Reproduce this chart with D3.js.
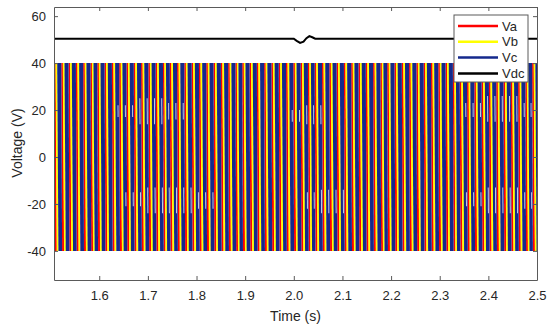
<!DOCTYPE html>
<html>
<head>
<meta charset="utf-8">
<script src="https://cdn.jsdelivr.net/npm/d3@7"></script>
<style>
  body { margin: 0; background: #fff; }
  svg { display: block; font-family: "Liberation Sans", Arial, sans-serif; }
</style>
</head>
<body>
<div class="chart"></div>
<script>
// Canvas size
var svgWidth = 550;
var svgHeight = 327;

// Margins around the plot box
var margin = { top: 7, right: 13, bottom: 47, left: 54 };
var width = svgWidth - margin.left - margin.right;
var height = svgHeight - margin.top - margin.bottom;

// Series and colours
var seriesNames = ["Va", "Vb", "Vc", "Vdc"];
var seriesColors = ["#ff0000", "#ffff00", "#14298c", "#000000"];

// Tick labels
var xTicks = [1.6, 1.7, 1.8, 1.9, 2.0, 2.1, 2.2, 2.3, 2.4, 2.5];
var yTicks = [-40, -20, 0, 20, 40, 60];

// Start time of each visible switching cycle
var cycleStarts = [1.507, 1.522, 1.537, 1.552, 1.567, 1.582, 1.596, 1.611, 1.626, 1.641,
  1.656, 1.671, 1.686, 1.701, 1.716, 1.731, 1.745, 1.760, 1.775, 1.790,
  1.805, 1.820, 1.835, 1.850, 1.865, 1.880, 1.894, 1.909, 1.924, 1.939,
  1.954, 1.969, 1.984, 1.999, 2.014, 2.029, 2.043, 2.058, 2.073, 2.088,
  2.103, 2.118, 2.133, 2.148, 2.163, 2.178, 2.192, 2.207, 2.222, 2.237,
  2.252, 2.267, 2.282, 2.297, 2.312, 2.327, 2.341, 2.356, 2.371, 2.386,
  2.401, 2.416, 2.431, 2.446, 2.461, 2.476, 2.490];

// Switching band of each phase inside one cycle, as cycle fractions:
// [start at +40 V, end at +40 V, start at -40 V, end at -40 V]  (stripes lean right going down)
var vaBand = [0.00, 0.24, 0.11, 0.39];
var vbBand = [0.20, 0.46, 0.37, 0.63];
var vcBand = [0.44, 1.00, 0.61, 1.11];
var vHigh = 40;
var vLow = -40;

// Light gaps inside the Vc band: [t start, t end, low V, high V]
var lightGaps = [[1.62, 1.66, 17, 22], [1.66, 1.73, 14, 25], [1.73, 1.77, 16, 23],
  [1.63, 1.68, -21, -15], [1.68, 1.78, -24, -13], [1.78, 1.83, -22, -15],
  [1.98, 2.01, 15, 20], [2.01, 2.05, 14, 22],
  [2.00, 2.04, -22, -15], [2.04, 2.10, -24, -14],
  [2.33, 2.38, 17, 23], [2.38, 2.45, 15, 26], [2.45, 2.48, 17, 23],
  [2.33, 2.38, -21, -15], [2.38, 2.46, -24, -13], [2.46, 2.49, -22, -15]];

// DC link voltage
var vdcTime = [1.507, 2.000, 2.006, 2.013, 2.020, 2.026, 2.032, 2.038, 2.044, 2.500];
var vdcValue = [50.4, 50.4, 49.5, 48.6, 49.1, 50.6, 51.5, 51.0, 50.4, 50.4];

var svg = d3.select(".chart")
  .append("svg")
  .attr("width", svgWidth)
  .attr("height", svgHeight);

var chartGroup = svg.append("g")
  .attr("transform", `translate(${margin.left}, ${margin.top})`);

// Scales
var xScale = d3.scaleLinear().domain([1.507, 2.5]).range([0, width]);
var yScale = d3.scaleLinear().domain([-52.4, 63.9]).range([height, 0]);

chartGroup.append("clipPath").attr("id", "plotClip")
  .append("rect").attr("width", width).attr("height", height);

var plot = chartGroup.append("g").attr("clip-path", "url(#plotClip)");

function cycleLength(k) {
  return (k < cycleStarts.length - 1 ? cycleStarts[k + 1] : 2.505) - cycleStarts[k];
}

// Build slanted band polygons for the three phases
var phaseBands = [vaBand, vbBand, vcBand];
var polys = [];
phaseBands.forEach(function(b, p) {
  cycleStarts.forEach(function(t0, k) {
    var len = cycleLength(k);
    polys.push({ p: p, pts: [
      [t0 + b[0] * len, vHigh], [t0 + b[1] * len, vHigh],
      [t0 + b[3] * len, vLow], [t0 + b[2] * len, vLow]
    ] });
  });
});

var polyLine = d3.line()
  .x(d => xScale(d[0]))
  .y(d => yScale(d[1]));

plot.selectAll("path.band")
  .data(polys)
  .enter()
  .append("path")
  .attr("class", "band")
  .attr("d", d => polyLine(d.pts) + "Z")
  .attr("fill", d => seriesColors[d.p]);

// light gaps (follow the lean of the Vc band)
var gapPolys = [];
lightGaps.forEach(function(g) {
  cycleStarts.forEach(function(t0, k) {
    if (t0 < g[0] || t0 >= g[1]) return;
    var len = cycleLength(k);
    var shift = function(v) { return (vHigh - v) / (vHigh - vLow) * 0.17; };
    gapPolys.push([
      [t0 + (0.74 + shift(g[3])) * len, g[3]], [t0 + (0.86 + shift(g[3])) * len, g[3]],
      [t0 + (0.86 + shift(g[2])) * len, g[2]], [t0 + (0.74 + shift(g[2])) * len, g[2]]
    ]);
  });
});

plot.selectAll("path.gap")
  .data(gapPolys)
  .enter()
  .append("path")
  .attr("class", "gap")
  .attr("d", d => polyLine(d) + "Z")
  .attr("fill", "#d9def2");

// Vdc line
var vdcLine = d3.line()
  .x((d, i) => xScale(vdcTime[i]))
  .y(d => yScale(d));

plot.append("path")
  .datum(vdcValue)
  .attr("d", vdcLine)
  .attr("fill", "none")
  .attr("stroke", seriesColors[3])
  .attr("stroke-width", 2);

// Axes (ticks pointing inward, box on all sides)
var axisColor = "#5a5a5a";
var textColor = "#262626";

var bottomAxis = d3.axisBottom(xScale).tickValues(xTicks)
  .tickFormat(d3.format(".1f")).tickSizeInner(-4).tickSizeOuter(0).tickPadding(11);
var leftAxis = d3.axisLeft(yScale).tickValues(yTicks)
  .tickFormat(d => String(d)).tickSizeInner(-4).tickSizeOuter(0).tickPadding(8);
var topAxis = d3.axisTop(xScale).tickValues(xTicks)
  .tickFormat("").tickSizeInner(-4).tickSizeOuter(0);
var rightAxis = d3.axisRight(yScale).tickValues(yTicks)
  .tickFormat("").tickSizeInner(-4).tickSizeOuter(0);

var gx = chartGroup.append("g").attr("transform", `translate(0, ${height})`).call(bottomAxis);
var gy = chartGroup.append("g").call(leftAxis);
var gt = chartGroup.append("g").call(topAxis);
var gr = chartGroup.append("g").attr("transform", `translate(${width}, 0)`).call(rightAxis);

[gx, gy, gt, gr].forEach(function(g) {
  g.selectAll("path, line").attr("stroke", axisColor);
  g.selectAll("text").attr("fill", textColor).attr("font-size", 13)
    .attr("font-family", "'Liberation Sans', Arial, sans-serif");
});

// Axis labels
chartGroup.append("text")
  .attr("x", width / 2)
  .attr("y", height + 41)
  .attr("text-anchor", "middle")
  .attr("font-size", 14)
  .attr("fill", textColor)
  .text("Time (s)");

chartGroup.append("text")
  .attr("transform", "rotate(-90)")
  .attr("x", 0 - (yScale(0) - 14))
  .attr("y", 0 - margin.left + 22)
  .attr("text-anchor", "middle")
  .attr("font-size", 14)
  .attr("fill", textColor)
  .text("Voltage (V)");

// Legend
var legend = svg.append("g").attr("transform", "translate(454, 15)");
legend.append("rect")
  .attr("width", 74)
  .attr("height", 67)
  .attr("fill", "#fff")
  .attr("stroke", axisColor);

var rows = legend.selectAll("g.row")
  .data(seriesNames)
  .enter()
  .append("g")
  .attr("transform", (d, i) => `translate(0, ${11 + i * 15.8})`);

rows.append("line")
  .attr("x1", 4).attr("x2", 44)
  .attr("stroke", (d, i) => seriesColors[i])
  .attr("stroke-width", 2.5);

rows.append("text")
  .attr("x", 48)
  .attr("dy", "0.35em")
  .attr("font-size", 13)
  .attr("fill", textColor)
  .text(d => d);
</script>
</body>
</html>
